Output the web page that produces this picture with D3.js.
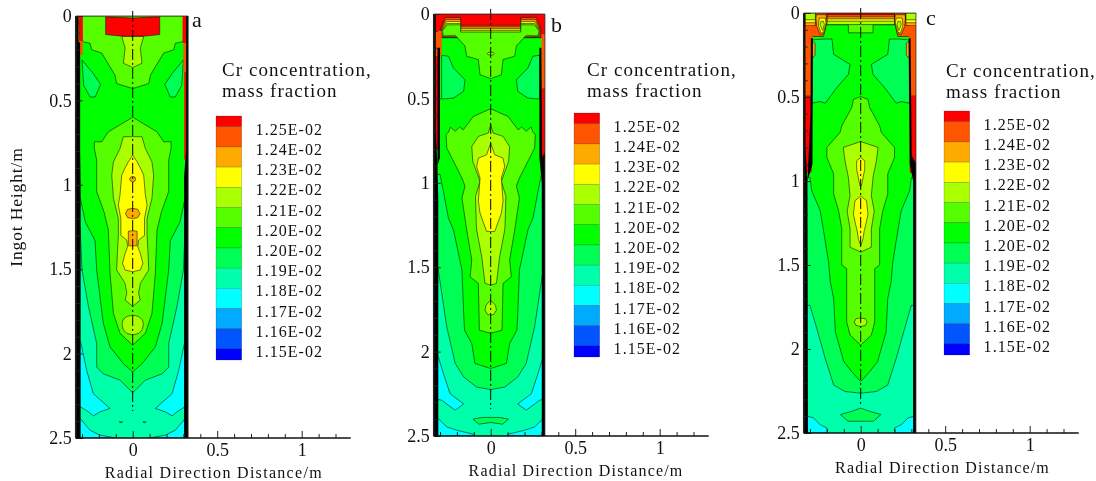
<!DOCTYPE html>
<html><head><meta charset="utf-8">
<script src="https://d3js.org/d3.v7.min.js"></script>
<style>html,body{margin:0;background:#fff}svg{display:block;filter:blur(.3px)}text{font-family:"Liberation Serif",serif;fill:#111}</style>
</head><body><svg id="c" width="1096" height="481"></svg>
<script>
const levelColors=["#0000ff","#0055ff","#00aaff","#00ffff","#00ffaa","#00ff55","#00ff00","#55ff00","#aaff00","#ffff00","#ffaa00","#ff5500","#ff0000"];
const levelLabels=["1.25E-02","1.24E-02","1.23E-02","1.22E-02","1.21E-02","1.20E-02","1.20E-02","1.19E-02","1.18E-02","1.17E-02","1.16E-02","1.15E-02"];
const panelNames=["a","b","c"];
const yMajor=[0,0.5,1,1.5,2,2.5];
const xMajor=[0,0.5,1];
const xMinor=[-0.3,-0.2,-0.1,0.1,0.2,0.3,0.4,0.6,0.7,0.8,0.9,1.1,1.2];
const yMinor=[0.1,0.2,0.3,0.4,0.6,0.7,0.8,0.9,1.1,1.2,1.3,1.4,1.6,1.7,1.8,1.9,2.1,2.2,2.3,2.4];

// [colour level, right-half contour as [radius m, height m]] (mirrored about the axis)
const contoursA=[
[5,[[0,0],[.33,0],[.33,1.15],[.31,1.27],[.30,1.505],[.262,1.72],[.213,1.94],[.213,2.08],[.174,2.12],[.075,2.157],[0,2.232]]],
[3,[[.33,1.93],[.308,1.93],[.272,2.10],[.233,2.237],[.134,2.325],[.193,2.345],[.233,2.369],[.262,2.345],[.31,2.315],[.33,2.315]]],
[3,[[.33,2.385],[.31,2.385],[.252,2.454],[.193,2.483],[.1,2.5],[.33,2.5]]],
[5,[[.06,2.404],[.08,2.404],[.07,2.41]]],
[6,[[0,0],[.33,0],[.33,1.08],[.31,1.08],[.28,1.22],[.223,1.33],[.213,1.505],[.174,1.82],[.134,1.96],[.055,2.06],[0,2.108]]],
[5,[[.30,.26],[.234,.34],[.19,.405],[.222,.48],[.252,.48],[.29,.41]]],
[7,[[0,0],[.33,0],[.296,.152],[.252,.162],[.243,.2],[.183,.22],[.105,.35],[.095,.40],[0,.43]]],
[7,[[0,.6],[.144,.686],[.183,.745],[.227,.745],[.227,.785],[.213,.854],[.213,1.04],[.17,1.16],[.144,1.268],[.134,1.525],[.114,1.762],[.075,1.88],[0,1.95]]],
[8,[[0,.715],[.055,.715],[.075,.785],[.114,.864],[.124,.943],[.114,1.08],[.085,1.2],[.085,1.3],[.09,1.387],[.095,1.505],[.045,1.584],[.035,1.643],[.045,1.683],[0,1.72]]],
[8,[[0,1.772],[.035,1.78],[.058,1.8],[.063,1.83],[.055,1.86],[.035,1.88],[0,1.89]]],
[8,[[0,.12],[.065,.122],[.045,.19],[.055,.28],[0,.305]]],
[9,[[0,.824],[.026,.864],[.045,.9],[.065,.943],[.075,1.06],[.085,1.12],[.07,1.2],[.07,1.3],[.035,1.327],[.03,1.367],[.045,1.406],[.06,1.465],[.045,1.505],[0,1.515]]],
[10,[[0,.95],[.014,.955],[.018,.966],[.014,.977],[0,.983]]],
[10,[[0,1.14],[.03,1.145],[.043,1.17],[.03,1.195],[0,1.2]]],
[10,[[0,1.272],[.026,1.275],[.026,1.36],[0,1.363]]],
[12,[[0,.012],[.08,.008],[.16,.005],[.16,.11],[.08,.118],[0,.12]]]
];
const wallsA=[[12,-.32,-.295,0,.15],[11,-.32,-.295,.15,.23],[12,.295,.316,0,.16],[11,.3,.316,.16,.33],[12,.305,.316,.33,.85]];
const blackA=[[[-.335,0],[-.321,0],[-.321,.15],[-.311,.16],[-.311,.8],[-.308,1],[-.308,2.5],[-.335,2.5]],[[.33,0],[.316,0],[.316,.8],[.304,.95],[.304,2.5],[.33,2.5]]];

const contoursB=[
[5,[[0,0],[.33,0],[.33,1.4],[.31,1.517],[.26,1.853],[.21,2.07],[.16,2.15],[.083,2.21],[0,2.225]]],
[3,[[.33,2.03],[.31,2.03],[.28,2.13],[.24,2.25],[.16,2.31],[.21,2.347],[.25,2.318],[.29,2.288],[.33,2.28]]],
[3,[[.33,2.397],[.31,2.397],[.26,2.446],[.2,2.466],[.1,2.49],[.1,2.5],[.33,2.5]]],
[5,[[0,2.39],[.05,2.39],[.105,2.4],[.07,2.43],[0,2.42]]],
[6,[[0,0],[.33,0],[.33,.95],[.30,.95],[.28,1.05],[.25,1.21],[.22,1.28],[.17,1.517],[.16,1.774],[.155,1.873],[.112,1.952],[.093,2.07],[0,2.1]]],
[5,[[.29,.245],[.25,.25],[.22,.32],[.152,.39],[.16,.458],[.22,.498],[.29,.504]]],
[12,[[0,0],[.33,0],[.33,.14],[0,.14]]],
[11,[[0,.067],[.178,.067],[.178,.02],[.27,.02],[.3,.1],[.295,.14],[0,.14]]],
[10,[[0,.077],[.178,.077],[.178,.032],[.266,.032],[.295,.1],[.29,.138],[0,.138]]],
[9,[[0,.087],[.178,.087],[.178,.044],[.262,.044],[.292,.1],[.286,.135],[0,.135]]],
[8,[[0,.097],[.178,.097],[.178,.056],[.26,.056],[.289,.1],[.283,.133],[0,.133]]],
[7,[[0,.107],[.178,.107],[.178,.064],[.258,.064],[.286,.1],[.28,.13],[.21,.126],[.152,.19],[.142,.25],[.073,.27],[.063,.36],[0,.383]]],
[8,[[0,.225],[.015,.228],[.02,.235],[.015,.242],[0,.244]]],
[7,[[0,.561],[.103,.607],[.162,.686],[.184,.67],[.21,.695],[.238,.67],[.25,.7],[.264,.715],[.26,.794],[.22,.873],[.17,.972],[.152,1.02],[.17,1.09],[.142,1.28],[.112,1.458],[.122,1.557],[.073,1.596],[.067,1.873],[0,1.892]]],
[8,[[0,.656],[.014,.705],[.073,.725],[.112,.785],[.106,.873],[.063,.992],[.09,1.08],[.085,1.25],[.083,1.28],[.053,1.438],[.034,1.596],[0,1.606]]],
[8,[[0,1.695],[.028,1.725],[.034,1.754],[.018,1.78],[0,1.784]]],
[9,[[0,.765],[.024,.834],[.073,.854],[.083,.903],[.063,.972],[.073,1.11],[.063,1.18],[.024,1.288],[0,1.288]]]
];
const wallsB=[[12,-.33,-.3,0,.1],[11,-.33,-.29,.1,.25],[12,-.33,-.3,.25,.8],[12,.3,.33,0,.12],[11,.3,.33,.12,.44],[12,.3,.33,.44,.85]];
const blackB=[[[-.337,0],[-.325,0],[-.325,.7],[-.315,.9],[-.31,1.1],[-.31,2.5],[-.337,2.5]],[[-.315,.2],[-.3,.2],[-.3,.85],[-.315,.9]],[[.33,.8],[.33,2.5],[.302,2.5],[.302,1],[.288,.85],[.288,.2],[.3,.2],[.305,.85]]];

const contoursC=[
[5,[[0,0],[.33,0],[.33,1.74],[.30,1.74],[.26,1.878],[.21,2.056],[.16,2.214],[.093,2.253],[0,2.263]]],
[3,[[.33,2.40],[.315,2.40],[.28,2.41],[.24,2.45],[.2,2.47],[.2,2.5],[.33,2.5]]],
[5,[[0,2.352],[.05,2.37],[.12,2.39],[.075,2.43],[0,2.43]]],
[6,[[0,0],[.33,0],[.33,.978],[.30,.978],[.29,1.057],[.24,1.176],[.22,1.294],[.19,1.483],[.18,1.6],[.16,1.7],[.15,1.898],[.1,2.075],[.053,2.135],[0,2.194]]],
[5,[[.285,.16],[.22,.155],[.17,.155],[.16,.246],[.063,.306],[.073,.366],[.142,.445],[.21,.537],[.24,.527],[.29,.537]]],
[7,[[0,.498],[.043,.514],[.053,.563],[.112,.672],[.122,.711],[.2,.8],[.2,.86],[.16,.958],[.16,1.077],[.13,1.18],[.112,1.285],[.112,1.5],[.083,1.522],[.083,1.838],[.063,1.917],[0,1.977]]],
[8,[[0,1.815],[.028,1.82],[.038,1.84],[.028,1.86],[0,1.866]]],
[8,[[0,.765],[.103,.8],[.093,.88],[.073,.978],[.063,1.087],[.08,1.18],[.063,1.285],[.063,1.394],[0,1.423]]],
[9,[[0,.86],[.024,.88],[.024,.93],[.004,1.03],[0,1.03]]],
[9,[[0,1.09],[.034,1.117],[.043,1.196],[.03,1.26],[.02,1.3],[.014,1.344],[0,1.384]]],
[7,[[0,0],[.24,0],[.22,.07],[.073,.07],[.073,.118],[0,.118]]],
[8,[[0,0],[.2,0],[.2,.069],[0,.069]]],
[9,[[0,0],[.2,0],[.2,.049],[0,.049]]],
[10,[[0,0],[.2,0],[.2,.035],[0,.035]]],
[11,[[0,0],[.2,0],[.2,.023],[0,.023]]],
[12,[[0,0],[.2,0],[.2,.01],[0,.01]]],
[11,[[.33,0],[.2,0],[.2,.05],[.22,.14],[.28,.14],[.33,.14]]],
[10,[[.262,.01],[.205,.01],[.2,.05],[.215,.12],[.24,.13],[.26,.08],[.265,.03]]],
[9,[[.245,.03],[.21,.03],[.205,.06],[.22,.115],[.235,.12],[.25,.075]]],
[8,[[.235,.05],[.22,.05],[.215,.07],[.225,.105],[.24,.07]]],
[10,[[.33,0],[.268,0],[.268,.075],[.33,.075]]],
[9,[[.33,0],[.268,0],[.268,.058],[.33,.058]]],
[8,[[.33,0],[.268,0],[.268,.04],[.33,.04]]],
[10,[[.285,.17],[.27,.18],[.27,.25],[.285,.27]]]
];
const wallsC=[[11,-.33,-.285,.075,.49],[12,-.33,-.29,.49,.95],[11,.285,.33,.075,.49],[12,.29,.33,.49,.95]];
const blackC=[[[-.337,0],[-.327,0],[-.327,.8],[-.315,1],[-.312,2.5],[-.337,2.5]],[[-.295,.15],[-.283,.15],[-.285,.9],[-.315,1],[-.297,.6]],[[.33,.9],[.33,2.5],[.31,2.5],[.31,1],[.29,.9],[.285,.15],[.295,.15],[.302,.85]]];

const panels=[
 {name:panelNames[0],cx:132.7,top:16,bottom:438,R:.328,contours:contoursA,walls:wallsA,black:blackA,swX:216,swTop:116,swBottom:360,textX:222,textY:75.5,letterX:192,letterY:27,titleR:.48,titleSp:1.3,tickLbl:true},
 {name:panelNames[1],cx:490.7,top:14,bottom:436,R:.321,contours:contoursB,walls:wallsB,black:blackB,swX:574,swTop:113,swBottom:357,textX:587,textY:75.5,letterX:551,letterY:32,titleR:.505,titleSp:1.18},
 {name:panelNames[2],cx:860.7,top:13,bottom:433,R:.327,contours:contoursC,walls:wallsC,black:blackC,swX:944,swTop:111,swBottom:355,textX:946,textY:77,letterX:926,letterY:25,titleR:.484,titleSp:1.18}
];
const svg=d3.select("#c");
const pxPerM=169;
panels.forEach((p,pi)=>{
 const x=d3.scaleLinear().domain([0,1]).range([p.cx,p.cx+pxPerM]);
 const y=d3.scaleLinear().domain([0,2.5]).range([p.top,p.bottom]);
 const L=-.337,R=p.R,E=1.29;
 const g=svg.append("g");
 const cid="clip"+pi;
 g.append("clipPath").attr("id",cid).append("rect").attr("x",x(L)).attr("y",y(0)).attr("width",x(R)-x(L)).attr("height",y(2.5)-y(0));
 const f=g.append("g").attr("clip-path",`url(#${cid})`);
 f.append("rect").attr("x",x(L)).attr("y",y(0)).attr("width",x(R)-x(L)).attr("height",y(2.5)-y(0)).attr("fill",levelColors[4]);
 const line=d3.line().x(d=>x(d[0])).y(d=>y(d[1]));
 const shape=(pts,lev)=>f.append("path").attr("d",line(pts)+"Z").attr("fill",levelColors[lev]).attr("stroke","#000").attr("stroke-opacity",.75).attr("stroke-width",.7).attr("stroke-linejoin","round");
 p.contours.forEach(([lev,pts])=>{
  if(pts[0][0]===0&&pts[pts.length-1][0]===0){
   shape(pts.concat(pts.slice().reverse().map(d=>[-d[0],d[1]])),lev);
  }else{
   shape(pts,lev); shape(pts.map(d=>[-d[0],d[1]]),lev);
  }
 });
 p.walls.forEach(([lev,r0,r1,h0,h1])=>{
  f.append("rect").attr("x",x(r0)).attr("width",x(r1)-x(r0)).attr("y",y(h0)).attr("height",y(h1)-y(h0)).attr("fill",levelColors[lev]);
 });
 p.black.forEach(pts=>f.append("path").attr("d",line(pts)+"Z").attr("fill","#000"));
 g.append("line").attr("x1",x(0)).attr("x2",x(0)).attr("y1",y(-.03)).attr("y2",y(2.34)).attr("stroke","#000").attr("stroke-width",1).attr("stroke-dasharray","11 3 2 3");
 g.append("path").attr("d",`M${x(R)},${y(2.5)}V${y(0)}H${x(L)}`).attr("fill","none").attr("stroke","#333").attr("stroke-width",.8);
 const ax=(sel,axis)=>{sel.call(axis);sel.selectAll("text").style("font-family",'"Liberation Serif",serif').style("font-size","18px").attr("fill","#111");sel.selectAll(".domain").remove();sel.selectAll("line").attr("stroke","#222");};
 const left=g.append("g").attr("transform",`translate(${x(L)},0)`);
 left.append("line").attr("y1",y(0)).attr("y2",y(2.5)).attr("stroke","#222").attr("stroke-width",1.6);
 const lM=g.append("g").attr("transform",`translate(${x(L)},0)`);
 ax(lM,d3.axisLeft(y).tickValues(yMajor).tickSizeInner(-7).tickSizeOuter(0).tickPadding(4).tickFormat(d3.format("")));
 lM.selectAll("text").attr("x",-4).attr("dy","0.32em");
 const lm=g.append("g").attr("transform",`translate(${x(L)},0)`);
 ax(lm,d3.axisLeft(y).tickValues(yMinor).tickSizeInner(-4).tickSizeOuter(0).tickFormat(""));
 const bM=g.append("g").attr("transform",`translate(0,${y(2.5)})`);
 ax(bM,d3.axisBottom(x).tickValues(xMajor).tickSizeInner(-7).tickSizeOuter(0).tickPadding(0).tickFormat(d3.format("")));
 bM.selectAll("text").attr("y",5.5).attr("dy","0.71em");
 const bm=g.append("g").attr("transform",`translate(0,${y(2.5)})`);
 ax(bm,d3.axisBottom(x).tickValues(xMinor).tickSizeInner(-4).tickSizeOuter(0).tickFormat(""));
 g.append("line").attr("x1",x(L)).attr("x2",x(E)).attr("y1",y(2.5)).attr("y2",y(2.5)).attr("stroke","#111").attr("stroke-width",1.6);
 g.append("text").attr("x",x(p.titleR)).attr("y",y(2.5)+40).attr("text-anchor","middle").attr("font-size",16).attr("letter-spacing",p.titleSp).text("Radial Direction Distance/m");
 if(p.tickLbl) g.append("text").attr("transform",`translate(22,${(y(0)+y(2.5))/2-20}) rotate(-90)`).attr("text-anchor","middle").attr("font-size",17.5).attr("letter-spacing",.85).text("Ingot Height/m");
 g.append("text").attr("x",p.letterX).attr("y",p.letterY).attr("font-size",22).text(p.name);
 g.append("text").attr("x",p.textX).attr("y",p.textY).attr("font-size",19).attr("letter-spacing",1.05).text("Cr concentration,");
 g.append("text").attr("x",p.textX).attr("y",p.textY+21).attr("font-size",19).attr("letter-spacing",1.05).text("mass fraction");
 const sy=d3.scaleLinear().domain([0,11]).range([p.swTop+10.7,p.swBottom-11]);
 const order=levelColors.slice().reverse();
 order.forEach((c,i)=>{
  const a=i===0?p.swTop:sy(i-1),b=i===12?p.swBottom:sy(i);
  g.append("rect").attr("x",p.swX).attr("width",25.7).attr("y",a).attr("height",b-a).attr("fill",c).attr("stroke","#000").attr("stroke-opacity",.35).attr("stroke-width",.5);
 });
 levelLabels.forEach((t,i)=>g.append("text").attr("x",p.swX+39.6).attr("y",sy(i)+8).attr("font-size",16).attr("letter-spacing",1.05).text(t));
});
</script></body></html>
